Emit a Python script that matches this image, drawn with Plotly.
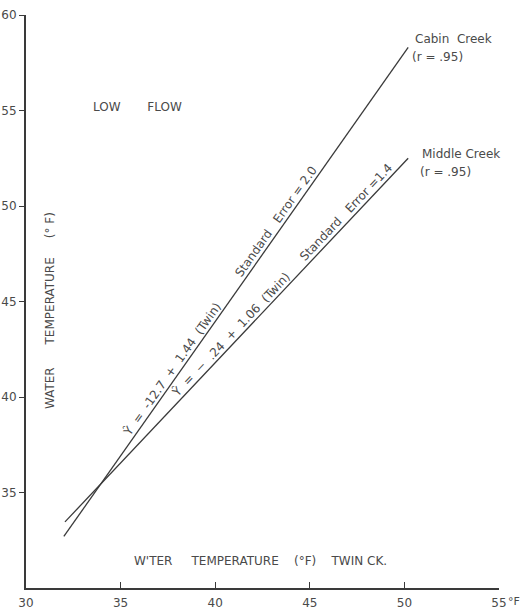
import math
import plotly.graph_objects as go

# ---- data ----
cabin_x = [32.0, 50.2]
cabin_y = [32.7, 58.3]
middle_x = [32.06, 50.2]
middle_y = [33.46, 52.5]

x_ticks = [30, 35, 40, 45, 50, 55]
x_ticktext = ["30", "35", "40", "45", "50", "55"]
y_ticks = [35, 40, 45, 50, 55, 60]
y_ticktext = ["35", "40", "45", "50", "55", "60"]

NB = "\u00a0"
def sp(n):
    return NB * n

cabin_eq = f"Ŷ{sp(2)}={sp(2)}-12.7{sp(2)}+{sp(2)}1.44{sp(2)}(Twin)"
cabin_se = f"Standard{sp(3)}Error{sp(1)}={sp(1)}2.0"
middle_eq = f"Ŷ{sp(2)}={sp(2)}−{sp(2)}.24{sp(2)}+{sp(2)}1.06{sp(2)}(Twin)"
middle_se = f"Standard{sp(3)}Error{sp(1)}=1.4"

W, H = 527, 610
ML, MR, MT, MB = 26, 28, 15, 22
XR = [30, 55]
YR = [30, 60]
pxx = (W - ML - MR) / (XR[1] - XR[0])
pxy = (H - MT - MB) / (YR[1] - YR[0])

INK = "#3a3a3a"
TXT = "#4a4a4a"
FONT = "DejaVu Sans"

fig = go.Figure()
fig.add_trace(go.Scatter(x=cabin_x, y=cabin_y, mode="lines",
                         line=dict(color=INK, width=1.3), showlegend=False, hoverinfo="skip"))
fig.add_trace(go.Scatter(x=middle_x, y=middle_y, mode="lines",
                         line=dict(color=INK, width=1.3), showlegend=False, hoverinfo="skip"))


def line_label(xs, ys, frac, text, d=8, size=12):
    x = xs[0] + frac * (xs[1] - xs[0])
    y = ys[0] + frac * (ys[1] - ys[0])
    slope = (ys[1] - ys[0]) / (xs[1] - xs[0])
    th = math.atan(slope * pxy / pxx)
    fig.add_annotation(x=x, y=y, text=text, showarrow=False,
                       textangle=-math.degrees(th),
                       xshift=-d * math.sin(th), yshift=d * math.cos(th),
                       font=dict(family=FONT, size=size, color=TXT))


line_label(cabin_x, cabin_y, 0.332, cabin_eq)
line_label(cabin_x, cabin_y, 0.634, cabin_se)
line_label(middle_x, middle_y, 0.5, middle_eq)
line_label(middle_x, middle_y, 0.837, middle_se)

def txt(x, y, s, xanchor="left", size=12, angle=0):
    fig.add_annotation(x=x, y=y, text=s, showarrow=False, xanchor=xanchor, yanchor="middle",
                       textangle=angle, font=dict(family=FONT, size=size, color=TXT))

txt(50.45, 58.74, f"Cabin{sp(2)}Creek")
txt(50.3, 57.8, f"(r{sp(1)}={sp(1)}.95)")
txt(50.82, 52.72, f"Middle{sp(1)}Creek")
txt(50.72, 51.78, f"(r{sp(1)}={sp(1)}.95)")
txt(35.87, 55.2, f"LOW{sp(7)}FLOW", xanchor="center")
txt(42.4, 31.4, f"W'TER{sp(5)}TEMPERATURE{sp(4)}(°F){sp(4)}TWIN{sp(1)}CK.",
    xanchor="center")
txt(31.27, 44.5, f"WATER{sp(6)}TEMPERATURE{sp(5)}(°{sp(1)}F)",
    xanchor="center", angle=-90)

fig.add_annotation(x=55, y=30, text="°F", showarrow=False, xanchor="left", yanchor="top",
                   xshift=7, yshift=-5, font=dict(family=FONT, size=11, color=TXT))

fig.update_layout(
    width=W, height=H,
    margin=dict(l=ML, r=MR, t=MT, b=MB),
    paper_bgcolor="white", plot_bgcolor="white",
    showlegend=False,
    xaxis=dict(range=XR, tickvals=x_ticks, ticktext=x_ticktext,
               showgrid=False, zeroline=False, showline=True, linecolor=INK, linewidth=2,
               ticks="inside", ticklen=6, tickcolor=INK, tickwidth=1.3,
               tickfont=dict(family=FONT, size=12, color=TXT), automargin=False,
               ticklabelstandoff=3),
    yaxis=dict(range=YR, tickvals=y_ticks, ticktext=y_ticktext,
               showgrid=False, zeroline=False, showline=True, linecolor=INK, linewidth=2,
               ticks="outside", ticklen=5, tickcolor=INK, tickwidth=1.3,
               tickfont=dict(family=FONT, size=12, color=TXT), automargin=False,
               ticklabelstandoff=0),
)

fig.write_html("out.html", config={"displayModeBar": False},
               post_script="document.body.style.margin='0';")
